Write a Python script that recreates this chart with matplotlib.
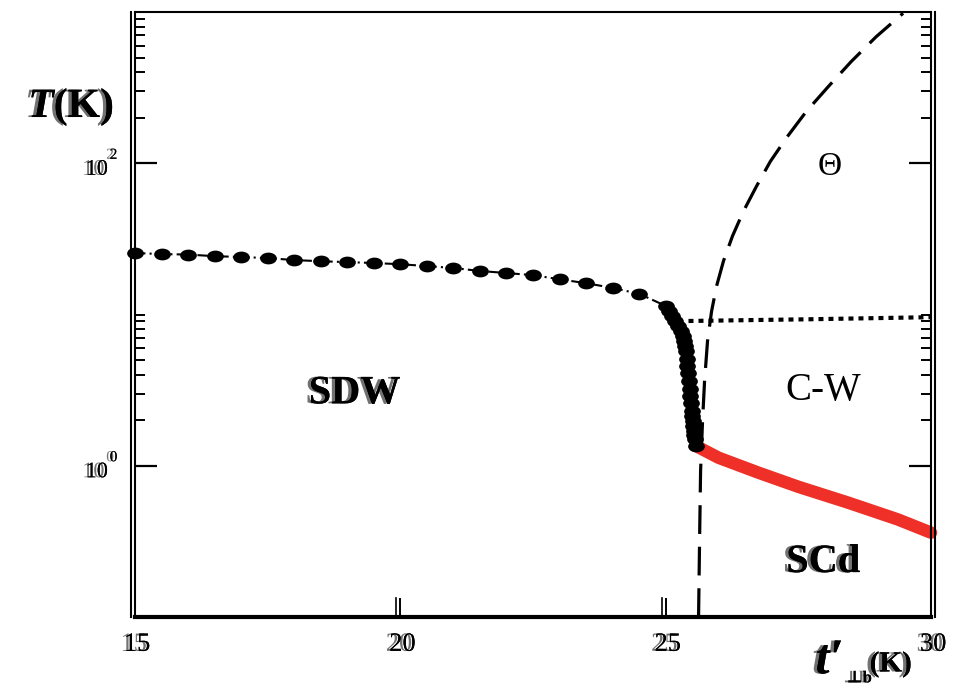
import numpy as np
import matplotlib
matplotlib.use('Agg')
import matplotlib.pyplot as plt
import matplotlib.patheffects as pe
from matplotlib.path import Path
from matplotlib.transforms import Affine2D, offset_copy
from matplotlib.ticker import FixedLocator, NullFormatter, NullLocator

plt.rcParams['font.family'] = ['Liberation Serif', 'DejaVu Serif']
plt.rcParams['mathtext.fontset'] = 'custom'
plt.rcParams['mathtext.rm'] = 'Liberation Serif'
plt.rcParams['mathtext.it'] = 'Liberation Serif:italic'
plt.rcParams['mathtext.bf'] = 'Liberation Serif:bold'
plt.rcParams['mathtext.bfit'] = 'Liberation Serif:italic:bold'

# SDW transition line (black dots)
sdw_x = [15.0, 15.5, 16.0, 16.5, 17.0, 17.5, 18.0, 18.5, 19.0, 19.5,
         20.0, 20.5, 21.0, 21.5, 22.0, 22.5, 23.0, 23.5, 24.0, 24.5,
         25.000, 25.056, 25.113, 25.169, 25.226, 25.282, 25.320, 25.338, 25.357, 25.376,
         25.395, 25.404, 25.414, 25.432, 25.451, 25.461, 25.470, 25.489, 25.498, 25.508,
         25.517, 25.526, 25.536, 25.545, 25.564]
sdw_T = [25.5, 25.1, 24.9, 24.3, 24.0, 23.6, 22.9, 22.5, 22.2, 21.9,
         21.5, 20.9, 20.3, 19.4, 18.8, 18.2, 17.1, 16.1, 15.0, 13.7,
         11.4, 10.6, 9.78, 9.06, 8.40, 7.78, 7.21, 6.68, 6.19, 5.74,
         5.09, 4.57, 4.11, 3.64, 3.22, 2.90, 2.60, 2.31, 2.14, 1.98,
         1.84, 1.70, 1.60, 1.51, 1.355]

# SCd transition line (red)
sc_x = [25.564, 25.996, 26.748, 27.50, 28.44, 29.38, 30.0]
sc_T = [1.355, 1.13, 0.90, 0.726, 0.570, 0.441, 0.361]

# Theta crossover (dashed)
th_x = [25.620, 25.639, 25.658, 25.695, 25.733, 25.789, 25.865, 25.959, 26.090, 26.259,
        26.466, 26.711, 26.974, 27.293, 27.650, 28.064, 28.496, 28.966, 29.474]
th_T = [0.1, 0.320, 0.927, 1.98, 3.64, 6.68, 10.5, 15.4, 22.6, 33.0,
        48.2, 70.4, 103, 150, 220, 321, 470, 686, 981]

# C-W crossover (dotted)
cw_x = [25.43, 27.7, 30.0]
cw_T = [9.06, 9.3, 9.6]

xticks = [15, 20, 25, 30]
yticks = [1, 100]
ytick_exp = ['0', '2']

fig = plt.figure(figsize=(9.66, 6.9), dpi=100)
ax = fig.add_axes([135/966, 1-617/690, (931-135)/966, (617-12)/690])
ax.set_yscale('log')
ax.set_xlim(15, 30)
ax.set_ylim(0.1, 1000)

ax.plot(th_x, th_T, color='k', lw=2.3, dashes=(9, 4))
ax.plot(cw_x, cw_T, color='k', lw=3, dashes=(1.2, 1.2))
ax.plot(sc_x, sc_T, color='#ee3028', lw=9, solid_capstyle='round', clip_on=False)

ell = Path.unit_circle().transformed(Affine2D().scale(1.0, 0.68))
ax.plot(sdw_x, sdw_T, color='k', lw=1.5, linestyle=(0, (5, 2, 1, 2)),
        marker=ell, ms=11, mfc='k', mec='k', clip_on=False)

# axes frame (doubled edges as in the original)
for s in ['left', 'right', 'top']:
    ax.spines[s].set_linewidth(1.5)
ax.spines['bottom'].set_linewidth(3)
ax.plot([15, 15], [0, 1], transform=offset_copy(ax.get_xaxis_transform(), fig=fig, x=-4, y=0, units='dots'),
        color='k', lw=1.5, clip_on=False)
ax.plot([30, 30], [0, 1], transform=offset_copy(ax.get_xaxis_transform(), fig=fig, x=4, y=0, units='dots'),
        color='k', lw=1.5, clip_on=False)

ax.xaxis.set_major_locator(FixedLocator(xticks))
ax.xaxis.set_minor_locator(NullLocator())
ax.yaxis.set_major_locator(FixedLocator(yticks))
ax.yaxis.set_minor_locator(FixedLocator([2, 3, 4, 5, 6, 7, 8, 9, 10,
                                         200, 300, 400, 500, 600, 700, 800, 900]))
ax.xaxis.set_major_formatter(NullFormatter())
ax.yaxis.set_major_formatter(NullFormatter())
ax.yaxis.set_minor_formatter(NullFormatter())
ax.tick_params(axis='x', which='major', direction='in', length=14, width=1.4,
               bottom=True, top=False)
ax.tick_params(axis='y', which='major', direction='in', length=16, width=1.6,
               left=True, right=True)
ax.tick_params(axis='y', which='minor', direction='in', length=7.5, width=1.4,
               left=True, right=True)
for xv in xticks[1:3]:
    ax.plot([xv, xv], [0, 19/605], transform=offset_copy(ax.get_xaxis_transform(), fig=fig, x=-4, y=0, units='dots'),
            color='k', lw=1.2, clip_on=False)

# ghosted text look of the original
ghost_fx = [pe.withSimplePatchShadow(offset=(-2.5, 0), shadow_rgbFace='0.35', alpha=0.85), pe.Normal()]


def ghost(x, y, s, transform, **kw):
    ax.text(x, y, s, transform=transform, color='k', clip_on=False,
            path_effects=ghost_fx, **kw)


# tick labels
for xv in xticks:
    ghost(xv + 0.04, -0.046, str(xv), ax.get_xaxis_transform(),
          ha='center', va='center', fontsize=19)
for yv, e in zip(yticks, ytick_exp):
    ghost(-0.034, yv, '10', offset_copy(ax.get_yaxis_transform(), fig=fig, x=0, y=-7, units='dots'),
          ha='right', va='center', fontsize=16)
    ghost(-0.033, yv, e, offset_copy(ax.get_yaxis_transform(), fig=fig, x=1, y=8, units='dots'),
          ha='left', va='center', fontsize=11)

# region labels
ghost(19.14, 2.99, 'SDW', ax.transData, ha='center', va='center', fontsize=29, fontweight='bold')
ghost(27.97, 0.229, 'SCd', ax.transData, ha='center', va='center', fontsize=29, fontweight='bold')
ax.text(27.97, 3.13, 'C-W', ha='center', va='center', fontsize=28)
ax.text(28.1, 95.5, 'Θ', ha='center', va='center', fontsize=24)

# axis titles
ghost(-0.134, 0.826, r'$\mathbfit{T}\mathbf{(K)}$', ax.transAxes, ha='left', va='baseline', fontsize=30)

ghost(0.855, -0.093, 't′', ax.transAxes, ha='left', va='baseline', fontsize=36,
      fontweight='bold', fontstyle='italic')
ghost(0.894, -0.108, '⊥b', ax.transAxes, ha='left', va='baseline', fontsize=12, fontweight='bold')
ghost(0.923, -0.090, '(K)', ax.transAxes, ha='left', va='baseline', fontsize=21, fontweight='bold')

fig.savefig('out.png', dpi=100, facecolor='white')
